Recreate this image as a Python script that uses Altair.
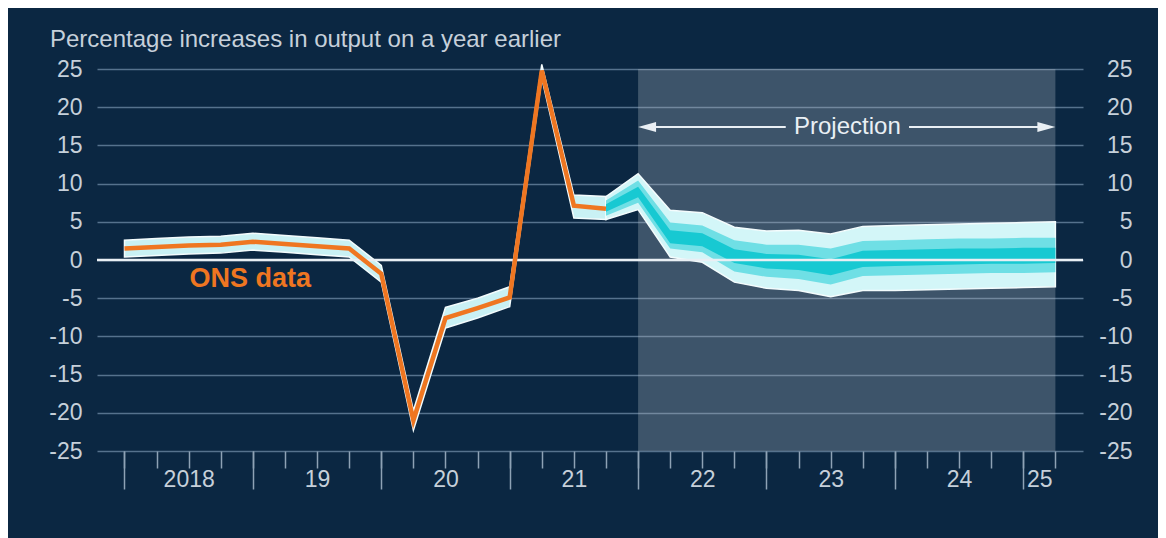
import json
import altair as alt
import pandas as pd

# ---------------- data ----------------
ONS_QUARTERS = ["2018Q1", "2018Q2", "2018Q3", "2018Q4", "2019Q1", "2019Q2", "2019Q3", "2019Q4",
                "2020Q1", "2020Q2", "2020Q3", "2020Q4", "2021Q1", "2021Q2", "2021Q3", "2021Q4"]
ONS_GROWTH = [1.5, 1.7, 1.9, 2.0, 2.4, 2.1, 1.8, 1.5, -1.8, -21.0, -7.6, -6.3, -4.9, 24.8, 7.1, 6.7]
BACKCAST_HI = [2.6, 2.8, 3.0, 3.1, 3.5, 3.2, 2.9, 2.6, -0.7, -19.7, -6.2, -5.0, -3.5, 25.6, 8.5, 8.3]
BACKCAST_LO = [0.4, 0.6, 0.8, 0.9, 1.3, 1.0, 0.7, 0.4, -2.9, -22.3, -8.9, -7.6, -6.1, 23.8, 5.5, 5.3]

FAN_QUARTERS = ["2021Q4", "2022Q1", "2022Q2", "2022Q3", "2022Q4", "2023Q1", "2023Q2", "2023Q3",
                "2023Q4", "2024Q1", "2024Q2", "2024Q3", "2024Q4", "2025Q1", "2025Q2"]
FAN_HI90 = [8.3, 11.3, 6.5, 6.2, 4.3, 3.8, 3.9, 3.4, 4.4, 4.5, 4.6, 4.7, 4.8, 4.9, 5.0]
FAN_HI60 = [7.8, 10.4, 4.9, 4.5, 2.6, 2.0, 2.0, 1.5, 2.5, 2.6, 2.7, 2.8, 2.8, 2.9, 2.9]
FAN_HI30 = [7.3, 9.6, 3.9, 3.5, 1.4, 0.8, 0.7, 0.1, 1.2, 1.3, 1.4, 1.5, 1.5, 1.6, 1.6]
FAN_LO30 = [6.3, 8.2, 2.2, 1.8, -0.4, -1.1, -1.3, -2.0, -0.9, -0.8, -0.7, -0.6, -0.5, -0.5, -0.4]
FAN_LO60 = [5.8, 7.5, 1.5, 1.0, -1.5, -2.2, -2.5, -3.2, -2.1, -2.0, -1.9, -1.8, -1.7, -1.7, -1.6]
FAN_LO90 = [5.3, 6.6, 0.4, -0.3, -2.9, -3.7, -4.0, -4.8, -4.0, -4.0, -3.9, -3.8, -3.7, -3.6, -3.5]

Y_TICKS = [-25, -20, -15, -10, -5, 0, 5, 10, 15, 20, 25]
YEAR_TICKS = [2018, 2019, 2020, 2021, 2022, 2023, 2024, 2025]
YEAR_LABELS = ["2018", "19", "20", "21", "22", "23", "24", "25"]
YEAR_LABEL_POS = [2018.5, 2019.5, 2020.5, 2021.5, 2022.5, 2023.5, 2024.5, 2025.125]
QUARTER_TICKS = [f"{y}Q{q}" for y in range(2018, 2026) for q in range(1, 5)][:30]

PROJ_START, PROJ_END = "2022Q1", "2025Q2"
TITLE = "Percentage increases in output on a year earlier"
PROJ_LABEL = "Projection"
ONS_LABEL = "ONS data"


def qpos(q):
    y, n = q.split("Q")
    return int(y) + (int(n) - 1) / 4


# ---------------- style ----------------
BG = "#0b2742"
FONT = "Liberation Sans"
LABEL = "#c6d0da"
GRID = "#56728d"
TICK = "#8ea2b5"
ORANGE = "#ef7621"
WHITE = "#e9eff4"

XS = alt.Scale(domain=[2017.786, 2025.465], nice=False, zero=False)
YS = alt.Scale(domain=[-25, 25], nice=False, zero=False)

ons_df = pd.DataFrame({"t": [qpos(q) for q in ONS_QUARTERS], "v": ONS_GROWTH,
                       "lo": BACKCAST_LO, "hi": BACKCAST_HI})
fan_df = pd.DataFrame({"t": [qpos(q) for q in FAN_QUARTERS],
                       "lo90": FAN_LO90, "hi90": FAN_HI90,
                       "lo60": FAN_LO60, "hi60": FAN_HI60,
                       "lo30": FAN_LO30, "hi30": FAN_HI30})
proj_df = pd.DataFrame({"t0": [qpos(PROJ_START)], "t1": [qpos(PROJ_END)], "lo": [-25], "hi": [25]})
zero_df = pd.DataFrame({"v": [0]})
arrow_df = pd.DataFrame({"t0": [2022.05, 2024.11], "t1": [2023.15, 2025.20], "v": [17.4, 17.4]})
head_l = pd.DataFrame({"t": [2022.07], "v": [17.4]})
head_r = pd.DataFrame({"t": [2025.18], "v": [17.4]})
proj_txt = pd.DataFrame({"t": [2023.63], "v": [17.4], "s": [PROJ_LABEL]})
ons_txt = pd.DataFrame({"t": [2018.98], "v": [-2.5], "s": [ONS_LABEL]})

# ---------------- axes ----------------
x_quarter_axis = alt.Axis(orient="bottom", values=[qpos(q) for q in QUARTER_TICKS], tickSize=17,
                          tickWidth=1.5, tickColor=TICK, labels=False, domain=False, grid=False,
                          title=None)
x_year_axis = alt.Axis(orient="bottom", values=YEAR_TICKS, tickSize=38, tickWidth=1.5,
                       tickColor=TICK, labels=False, domain=False, grid=False, title=None)
label_expr = f"{json.dumps(YEAR_LABELS)}[indexof({json.dumps(YEAR_LABEL_POS)}, datum.value)]"
x_label_axis = alt.Axis(orient="bottom", values=YEAR_LABEL_POS, labelExpr=label_expr, ticks=False,
                        domain=False, grid=False, labelPadding=28, labelBaseline="middle",
                        labelFontSize=23, labelFont=FONT, labelColor=LABEL, labelOverlap=False,
                        labelFlush=False, title=None)
y_left = alt.Axis(orient="left", values=Y_TICKS, grid=True, gridColor=GRID, gridWidth=1.5,
                  domain=False, ticks=False, labelPadding=15, labelFontSize=23, labelFont=FONT,
                  labelColor=LABEL, labelOverlap=False, labelExpr="toString(datum.value)",
                  title=None)
y_right = alt.Axis(orient="right", values=Y_TICKS, grid=False, domain=False, ticks=False,
                   labelAlign="right", labelPadding=49, labelFontSize=23, labelFont=FONT,
                   labelColor=LABEL, labelOverlap=False, labelExpr="toString(datum.value)",
                   title=None)

# ---------------- layers ----------------
shade = alt.Chart(proj_df).mark_rect(color="#b4bec8", opacity=0.3).encode(
    x=alt.X("t0:Q", scale=XS, axis=x_quarter_axis), x2="t1:Q",
    y=alt.Y("lo:Q", scale=YS, axis=y_left), y2="hi:Q")

backcast = alt.Chart(ons_df).mark_area(color="#c9f1f4", stroke="#f4fcfd", strokeWidth=1.5).encode(
    x=alt.X("t:Q", scale=XS, axis=x_year_axis),
    y=alt.Y("lo:Q", scale=YS, axis=y_right), y2="hi:Q")

fan90 = alt.Chart(fan_df).mark_area(color="#d3f6f8", stroke="#f4fcfd", strokeWidth=1.5).encode(
    x=alt.X("t:Q", scale=XS, axis=x_label_axis),
    y=alt.Y("lo90:Q", scale=YS, axis=None), y2="hi90:Q")
fan60 = alt.Chart(fan_df).mark_area(color="#6fdfe5").encode(
    x=alt.X("t:Q", scale=XS, axis=None),
    y=alt.Y("lo60:Q", scale=YS, axis=None), y2="hi60:Q")
fan30 = alt.Chart(fan_df).mark_area(color="#17c9d2").encode(
    x=alt.X("t:Q", scale=XS, axis=None),
    y=alt.Y("lo30:Q", scale=YS, axis=None), y2="hi30:Q")

zero = alt.Chart(zero_df).mark_rule(color=WHITE, strokeWidth=2.5).encode(
    y=alt.Y("v:Q", scale=YS, axis=None))

ons_line = alt.Chart(ons_df).mark_line(color=ORANGE, strokeWidth=4.5, strokeJoin="miter").encode(
    x=alt.X("t:Q", scale=XS, axis=None), y=alt.Y("v:Q", scale=YS, axis=None))

arrow = alt.Chart(arrow_df).mark_rule(color=WHITE, strokeWidth=2).encode(
    x=alt.X("t0:Q", scale=XS, axis=None), x2="t1:Q", y=alt.Y("v:Q", scale=YS, axis=None))
arrow_l = alt.Chart(head_l).mark_point(shape="M-1,0L1,-0.55L1,0.55Z", size=324, filled=True,
                                       color=WHITE, opacity=1).encode(
    x=alt.X("t:Q", scale=XS, axis=None), y=alt.Y("v:Q", scale=YS, axis=None))
arrow_r = alt.Chart(head_r).mark_point(shape="M1,0L-1,-0.55L-1,0.55Z", size=324, filled=True,
                                       color=WHITE, opacity=1).encode(
    x=alt.X("t:Q", scale=XS, axis=None), y=alt.Y("v:Q", scale=YS, axis=None))
ptext = alt.Chart(proj_txt).mark_text(font=FONT, fontSize=24, color=WHITE).encode(
    x=alt.X("t:Q", scale=XS, axis=None), y=alt.Y("v:Q", scale=YS, axis=None), text="s:N")
otext = alt.Chart(ons_txt).mark_text(font=FONT, fontSize=27, fontWeight="bold", color=ORANGE).encode(
    x=alt.X("t:Q", scale=XS, axis=None), y=alt.Y("v:Q", scale=YS, axis=None), text="s:N")

chart = alt.layer(
    shade, backcast, fan90, fan60, fan30, zero, ons_line, arrow, arrow_l, arrow_r, ptext, otext
).resolve_axis(x="independent", y="independent").properties(
    width=986, height=382,
    autosize=alt.AutoSizeParams(type="none"),
    padding={"left": 89, "top": 61, "right": 75, "bottom": 87},
    title=alt.TitleParams(TITLE, anchor="start", frame="group", dx=-47, offset=6,
                          font=FONT, fontSize=24, fontWeight="normal", color=LABEL),
).configure(background=BG).configure_view(stroke=None)

chart.save("out.html", embed_options={"renderer": "svg", "actions": False})
